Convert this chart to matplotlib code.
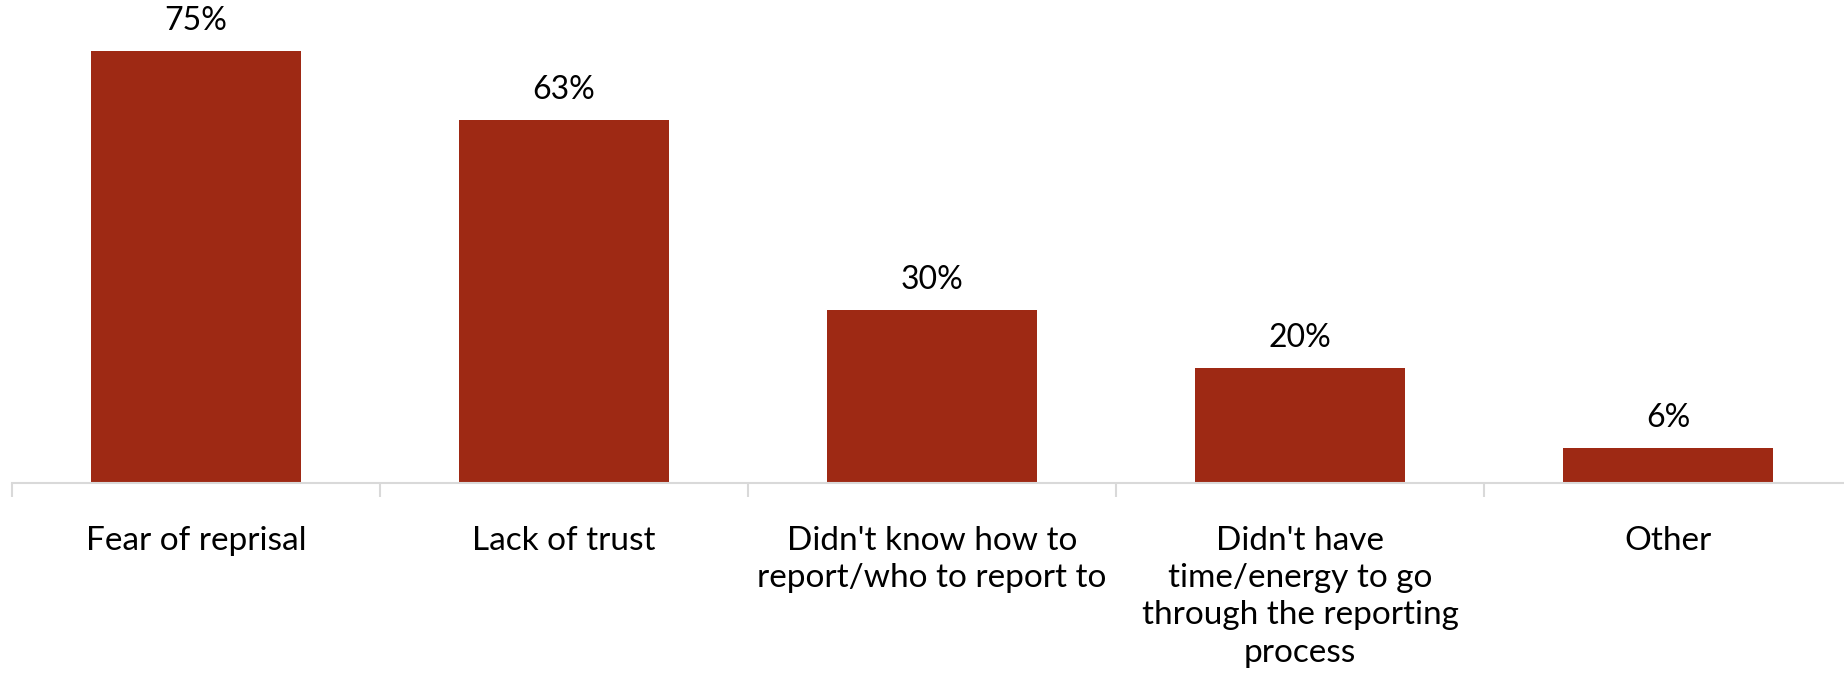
import numpy as np
import matplotlib.pyplot as plt

# reasons for not reporting
categories = [
    "Fear of reprisal",
    "Lack of trust",
    "Didn't know how to\nreport/who to report to",
    "Didn't have\ntime/energy to go\nthrough the reporting\nprocess",
    "Other",
]
shares = [75, 63, 30, 20, 6]

bar_color = "#9E2914"
axis_color = "#D9D9D9"

plt.rcParams['font.family'] = ['Lato', 'DejaVu Sans']

fig = plt.figure(figsize=(18.44, 6.75), dpi=100)
ax = fig.add_axes([12 / 1844, 0.2844, 1840 / 1844, 0.7156])

x = np.arange(len(categories))
bars = ax.bar(x, shares, width=0.57, color=bar_color, zorder=2)

for rect, v in zip(bars, shares):
    ax.annotate(f"{v}%", (rect.get_x() + rect.get_width() / 2, rect.get_height()),
                xytext=(0, 11), textcoords="offset points",
                ha="center", va="bottom", fontsize=23, color="black")

ax.set_xlim(-0.5, len(categories) - 0.5)
ax.set_ylim(0, 83.9)

# category labels at bar centres, tick marks between categories
ax.set_xticks(x)
ax.set_xticklabels(categories, fontsize=24, linespacing=1.3)
ax.tick_params(axis="x", which="major", length=0, pad=31)
ax.set_xticks(np.arange(len(categories) + 1) - 0.5, minor=True)
ax.tick_params(axis="x", which="minor", length=10, width=1.5, color=axis_color)

ax.set_yticks([])
for side in ["top", "right", "left"]:
    ax.spines[side].set_visible(False)
ax.spines["bottom"].set_color(axis_color)
ax.spines["bottom"].set_linewidth(1.5)

fig.savefig("out.png", dpi=100)
